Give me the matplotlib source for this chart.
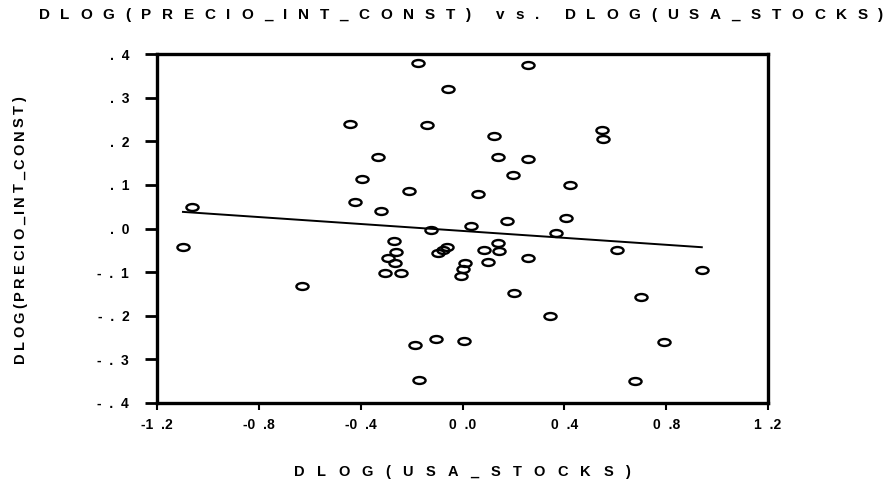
import numpy as np
import matplotlib
matplotlib.use("Agg")
import matplotlib.pyplot as plt
from matplotlib.markers import MarkerStyle
from matplotlib.transforms import Affine2D
from matplotlib.font_manager import FontProperties


# changes in log of the two series
usa_stocks = np.array([
    -0.173, -0.057, -0.443, -0.138, -0.332, -0.396, -0.211, -0.424, -0.322,
    -1.063, -0.122, 0.257, 0.123, 0.546, 0.553, 0.140, 0.259, 0.199,
    0.422, 0.061, 0.175, 0.406, 0.034, 0.369, -1.098, -0.270, -0.262,
    -0.292, -0.266, -0.305, -0.240, -0.630, -0.098, -0.078, -0.059, -0.105,
    -0.187, -0.170, 0.140, 0.084, 0.144, 0.011, 0.101, 0.258, 0.605,
    0.000, -0.006, 0.940, 0.203, 0.701, 0.343, 0.005, 0.791, 0.676,
])
precio_int_const = np.array([
    0.380, 0.320, 0.240, 0.237, 0.165, 0.114, 0.086, 0.060, 0.039,
    0.049, -0.003, 0.375, 0.213, 0.226, 0.205, 0.164, 0.160, 0.123,
    0.099, 0.078, 0.018, 0.025, 0.006, -0.010, -0.042, -0.028, -0.055,
    -0.068, -0.080, -0.101, -0.103, -0.132, -0.056, -0.049, -0.042, -0.253,
    -0.268, -0.348, -0.033, -0.050, -0.052, -0.078, -0.077, -0.068, -0.050,
    -0.093, -0.108, -0.096, -0.147, -0.156, -0.201, -0.257, -0.261, -0.349,
])

x_ticks = [-1.2, -0.8, -0.4, 0.0, 0.4, 0.8, 1.2]
x_tick_labels = ["-1  .2", "-0  .8", "-0  .4", "0  .0", "0  .4", "0  .8", "1  .2"]
y_ticks = [-0.4, -0.3, -0.2, -0.1, 0.0, 0.1, 0.2, 0.3, 0.4]
y_tick_labels = ["-  .  4", "-  .  3", "-  .  2", "-  .  1", ".  0", ".  1", ".  2", ".  3", ".  4"]

W, H = 894, 482
FONT = "Liberation Sans"

fig = plt.figure(figsize=(W / 100, H / 100), dpi=100)
ax = fig.add_axes([157 / W, 1 - 403 / H, (768 - 157) / W, (403 - 54) / H])

# hollow flat ellipses
ring = MarkerStyle("o", fillstyle="none", transform=Affine2D().scale(1.75, 1.0))
ax.plot(usa_stocks, precio_int_const, linestyle="none", marker=ring,
        markersize=5.0, markeredgewidth=1.7, markeredgecolor="black",
        markerfacecolor="none")

# least squares fit over the data range
slope, intercept = np.polyfit(usa_stocks, precio_int_const, 1)
xs = np.array([usa_stocks.min(), usa_stocks.max()])
ax.plot(xs, intercept + slope * xs, color="black", linewidth=1.4)

ax.set_xlim(-1.2, 1.2)
ax.set_ylim(-0.4, 0.4)
ax.set_xticks(x_ticks, x_tick_labels)
ax.set_yticks(y_ticks, y_tick_labels)
for lab in ax.get_xticklabels() + ax.get_yticklabels():
    lab.set_fontfamily(FONT)
    lab.set_fontweight("bold")
    lab.set_fontsize(10)
ax.tick_params(axis="y", length=9, width=2, pad=11)
ax.tick_params(axis="x", length=5, width=1.5, pad=6)
for sp in ax.spines.values():
    sp.set_linewidth(2.4)


def tracked(s, cx, cy, size, track, vertical=False):
    # draw text one glyph at a time with extra spacing; cx, cy in pixels from top-left
    r = fig.canvas.get_renderer()
    fp = FontProperties(family=FONT, weight="bold", size=size)
    widths = [r.get_text_width_height_descent(ch, fp, ismath=False)[0] for ch in s]
    total = sum(widths) + track * (len(s) - 1)
    pos = -total / 2
    for ch, w in zip(s, widths):
        o = pos + w / 2
        if vertical:
            fig.text(cx / W, 1 - (cy - o) / H, ch, fontproperties=fp,
                     ha="center", va="baseline", rotation=90,
                     rotation_mode="anchor")
        else:
            fig.text((cx + o) / W, 1 - cy / H, ch, fontproperties=fp,
                     ha="center", va="baseline")
        pos += w + track


tracked("DLOG(PRECIO_INT_CONST) vs. DLOG(USA_STOCKS)", 461, 19, 11, 10.7)
tracked("DLOG(USA_STOCKS)", 462, 476, 10.5, 12.3)
tracked("DLOG(PRECIO_INT_CONST)", 24, 230, 10.5, 3.2, vertical=True)

fig.savefig("out.png", dpi=100)
